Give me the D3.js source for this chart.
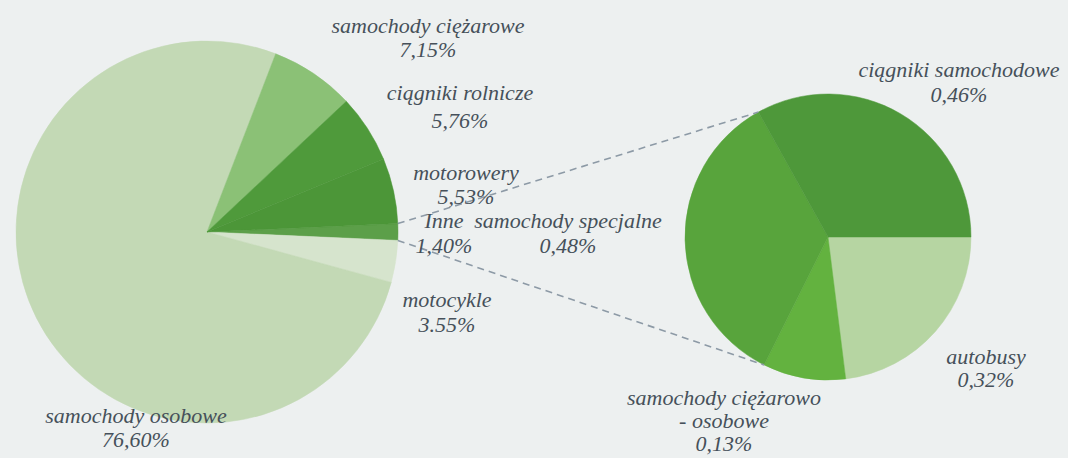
<!DOCTYPE html>
<html>
<head>
<meta charset="utf-8">
<script src="https://cdn.jsdelivr.net/npm/d3@7"></script>
<style>
  body { margin: 0; background: #edf0f0; }
  svg { display: block; }
</style>
</head>
<body>
<div id="chart"></div>
<script>
// main pie, clockwise from the "Inne" slice at 3 o'clock
var mainNames = ["Inne", "motocykle", "samochody osobowe", "samochody ciężarowe", "ciągniki rolnicze", "motorowery"];
var mainValues = [1.40, 3.55, 76.60, 7.15, 5.76, 5.53];
var mainLabels = ["1,40%", "3.55%", "76,60%", "7,15%", "5,76%", "5,53%"];
var mainColors = ["#5c9f49", "#d6e4cd", "#c3d9b5", "#8bc176", "#4f9a3b", "#4c9638"];

// secondary pie ("Inne" split), clockwise from 3 o'clock
var subNames = ["autobusy", "samochody ciężarowo|- osobowe", "samochody specjalne", "ciągniki samochodowe"];
var subValues = [0.32, 0.13, 0.48, 0.46];
var subLabels = ["0,32%", "0,13%", "0,48%", "0,46%"];
var subColors = ["#b6d5a2", "#63b23f", "#58a43c", "#4e983a"];

var W = 1068, H = 458;
var svg = d3.select("#chart").append("svg")
    .attr("width", W)
    .attr("height", H);

var c1 = {x: 207, y: 232, r: 191};
var c2 = {x: 828, y: 237, r: 143};

var innePart = mainValues[0] / d3.sum(mainValues) * 2 * Math.PI;
var pieMain = d3.pie().sort(null)
    .startAngle(Math.PI / 2 - innePart / 2)
    .endAngle(Math.PI / 2 - innePart / 2 + 2 * Math.PI);
var pieSub = d3.pie().sort(null)
    .startAngle(Math.PI / 2)
    .endAngle(Math.PI / 2 + 2 * Math.PI);

var arcsMain = pieMain(mainValues);
var arcsSub = pieSub(subValues);

var arc1 = d3.arc().innerRadius(0).outerRadius(c1.r);
var arc2 = d3.arc().innerRadius(0).outerRadius(c2.r);

var g1 = svg.append("g").attr("transform", "translate(" + c1.x + "," + c1.y + ")");
g1.selectAll("path").data(arcsMain).enter().append("path")
    .attr("d", arc1)
    .attr("fill", function (d, i) { return mainColors[i]; })
    .attr("stroke", function (d, i) { return mainColors[i]; })
    .attr("stroke-width", 0.5);

var g2 = svg.append("g").attr("transform", "translate(" + c2.x + "," + c2.y + ")");
g2.selectAll("path").data(arcsSub).enter().append("path")
    .attr("d", arc2)
    .attr("fill", function (d, i) { return subColors[i]; })
    .attr("stroke", function (d, i) { return subColors[i]; })
    .attr("stroke-width", 0.5);

// connector lines from the "Inne" slice to the secondary pie
function pt(c, a) {
    return [c.x + c.r * Math.sin(a), c.y - c.r * Math.cos(a)];
}
var inne = arcsMain[0];
var spec = arcsSub[2];
var links = [
    [pt(c1, inne.startAngle), pt(c2, spec.endAngle)],
    [pt(c1, inne.endAngle), pt(c2, spec.startAngle)]
];
svg.selectAll("line.conn").data(links).enter().append("line")
    .attr("class", "conn")
    .attr("x1", function (d) { return d[0][0]; })
    .attr("y1", function (d) { return d[0][1]; })
    .attr("x2", function (d) { return d[1][0]; })
    .attr("y2", function (d) { return d[1][1]; })
    .attr("stroke", "#8d9aa6")
    .attr("stroke-width", 1.6)
    .attr("stroke-dasharray", "7,5");

// label anchor points (centre x, first baseline y)
var mainLabelPos = [[444, 228], [447, 307], [136, 423], [428, 33], [460, 100], [466, 180]];
var subLabelPos = [[986, 364], [724, 405], [568, 228], [959, 77]];

function drawLabels(names, vals, pos, gap) {
    names.forEach(function (n, i) {
        var lines = n.split("|").concat([vals[i]]);
        var t = svg.append("text")
            .attr("text-anchor", "middle")
            .attr("x", pos[i][0])
            .attr("y", pos[i][1])
            .attr("font-family", "Liberation Serif")
            .attr("font-style", "italic")
            .attr("font-size", 22)
            .attr("fill", "#46505a");
        lines.forEach(function (s, j) {
            t.append("tspan")
                .attr("x", pos[i][0])
                .attr("dy", j === 0 ? 0 : gap[i])
                .text(s);
        });
    });
}
drawLabels(mainNames, mainLabels, mainLabelPos, [25, 25, 24, 24, 28, 24]);
drawLabels(subNames, subLabels, subLabelPos, [23, 23, 25, 25]);
</script>
</body>
</html>
